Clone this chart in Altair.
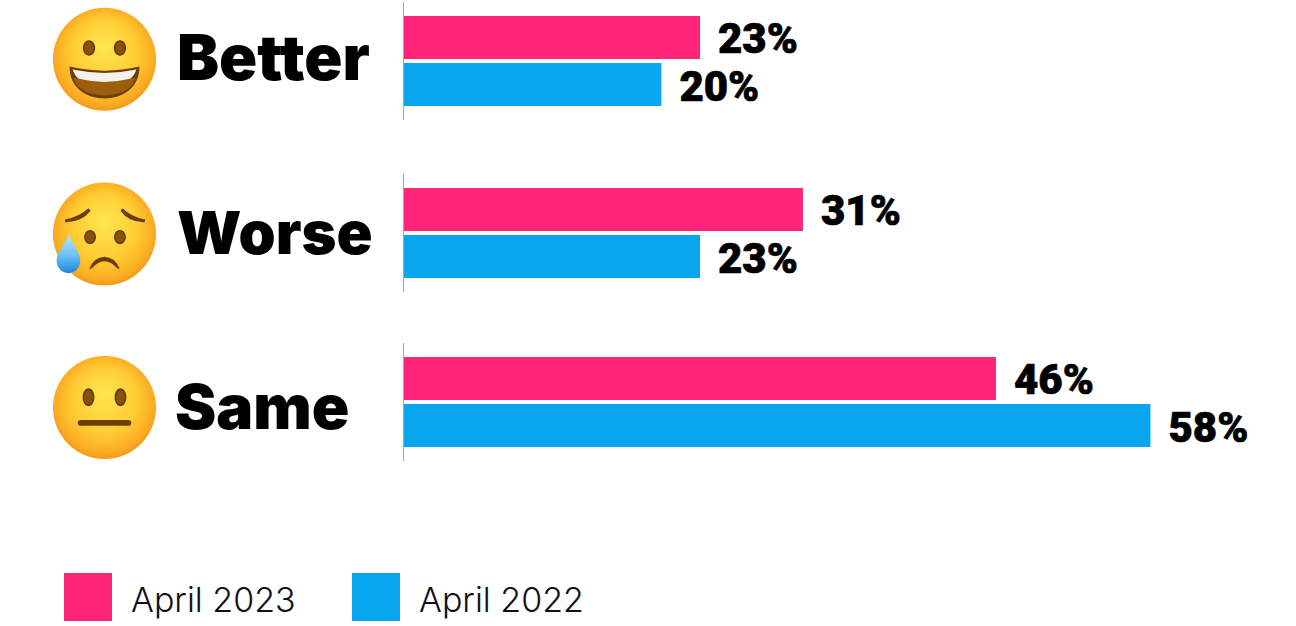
import altair as alt
import pandas as pd

# Survey results, in percent
categories = ["Better", "Worse", "Same"]
periods = ["April 2023", "April 2022"]
values_2023 = [23, 31, 46]
values_2022 = [20, 23, 58]
period_colors = ["#FF2679", "#08A6EE"]

rows = []
for i, cat in enumerate(categories):
    rows.append({"category": cat, "period": periods[0], "value": values_2023[i], "slot": 2 * i})
    rows.append({"category": cat, "period": periods[1], "value": values_2022[i], "slot": 2 * i + 1})
table = pd.DataFrame(rows)

x_scale = alt.Scale(domain=[0, 69.31], range=[404, 1296], nice=False, zero=False)
y_scale = alt.Scale(domain=[0, 1, 2, 3, 4, 5], range=[37.5, 84.5, 209.5, 256.5, 378.5, 425.5],
                    nice=False, zero=False, padding=0)
x_enc = alt.X("value:Q", scale=x_scale, axis=None)
y_enc = alt.Y("slot:Q", scale=y_scale, axis=None)

one_row = alt.Data(values=[{"n": 1}])

# Thin baseline next to each group of bars
baselines = [
    alt.Chart(one_row).mark_rule(color="#A8A8A8", strokeWidth=1).encode(
        x=alt.value(403.5), y=alt.value(top), y2=alt.value(bottom))
    for top, bottom in [(2, 120), (174, 292), (343, 461)]
]

bars = alt.Chart(table).mark_bar(orient="horizontal", height=43).encode(
    x=x_enc,
    y=y_enc,
    color=alt.Color("period:N", scale=alt.Scale(domain=periods, range=period_colors), legend=None),
)


def value_labels(period, shift):
    # A hairline stroke thickens the heaviest available Roboto weight
    return alt.Chart(table).transform_filter(
        alt.datum.period == period
    ).transform_calculate(label="datum.value + '%'").mark_text(
        align="left", baseline="middle", dx=18, dy=shift, font="Roboto", fontWeight=900,
        fontSize=42, color="#000000", stroke="#000000", strokeWidth=0.7,
    ).encode(x=x_enc, y=y_enc, text="label:N")


# Category names sit on their own baselines
name_layers = [
    alt.Chart(alt.Data(values=[{"name": cat}])).mark_text(
        align="left", baseline="alphabetic", font="Inter", fontWeight=900, fontSize=size, color="#000000",
    ).encode(x=alt.value(left), y=alt.value(base), text="name:N")
    for cat, left, base, size in zip(categories, [177, 177, 175], [80, 254, 429], [63, 59.5, 62])
]

# Key below the chart
key_layers = []
for name, color, box_x, text_x in zip(periods, period_colors, [88, 376], [131, 419]):
    key_layers.append(
        alt.Chart(one_row).mark_square(size=2304, color=color, opacity=1, strokeWidth=0).encode(
            x=alt.value(box_x), y=alt.value(597))
    )
    key_layers.append(
        alt.Chart(alt.Data(values=[{"name": name}])).mark_text(
            align="left", baseline="alphabetic", font="Inter", fontWeight=300, fontSize=34,
            color="#111111",
        ).encode(x=alt.value(text_x), y=alt.value(612), text="name:N")
    )

# --- Emoji faces, drawn as symbols on a unit square around each centre ---
R = 51.5
FACE = {
    "gradient": "radial", "x1": 0.5, "y1": 0.36, "r1": 0, "x2": 0.5, "y2": 0.48, "r2": 0.56,
    "stops": [
        {"offset": 0, "color": "#FFE650"},
        {"offset": 0.55, "color": "#FFCD35"},
        {"offset": 0.85, "color": "#FBAC22"},
        {"offset": 1, "color": "#EE8E18"},
    ],
}
TEAR = {
    "gradient": "linear", "x1": 0.5, "y1": 0, "x2": 0.5, "y2": 1,
    "stops": [
        {"offset": 0, "color": "#BDE6FA"},
        {"offset": 0.55, "color": "#6BC0F2"},
        {"offset": 1, "color": "#1F86DC"},
    ],
}
DARK = "#6B3E05"
MID = "#8A5208"


def ellipse(cx, cy, rx, ry):
    return (f"M {cx - rx} {cy} A {rx} {ry} 0 1 1 {cx + rx} {cy} "
            f"A {rx} {ry} 0 1 1 {cx - rx} {cy} Z")


def part(cx, cy, path, fill):
    return alt.Chart(one_row).mark_point(
        shape=path, size=(2 * R) ** 2, filled=True, fill=fill, opacity=1, strokeWidth=0,
    ).encode(x=alt.value(cx), y=alt.value(cy))


def eyes(cx, cy, ex, ey, rx, ry):
    out = []
    for sx in (-ex[0], ex[1]):
        out.append(part(cx, cy, ellipse(sx, ey, rx, ry), DARK))
        out.append(part(cx, cy, ellipse(sx, ey, rx * 0.7, ry * 0.75), MID))
    return out


def face(cx, cy):
    return part(cx, cy, ellipse(0, 0, 1, 1), FACE)


grin_x, grin_y = 104.5, 59.3
grin = [
    face(grin_x, grin_y),
    *eyes(grin_x, grin_y, (0.30, 0.30), -0.22, 0.12, 0.15),
    part(grin_x, grin_y, "M -0.68 0.14 Q 0 0.3 0.68 0.14 C 0.68 0.55 0.35 0.76 0 0.76 "
                         "C -0.35 0.76 -0.68 0.55 -0.68 0.14 Z", DARK),
    part(grin_x, grin_y, "M -0.6 0.36 Q 0 0.5 0.6 0.36 C 0.55 0.58 0.3 0.7 0 0.7 "
                         "C -0.3 0.7 -0.55 0.58 -0.6 0.36 Z", "#9C5E0A"),
    part(grin_x, grin_y, "M -0.62 0.2 Q 0 0.33 0.62 0.2 Q 0.58 0.32 0.5 0.38 "
                         "Q 0 0.5 -0.5 0.38 Q -0.58 0.32 -0.62 0.2 Z", "#F4F1EA"),
]

sad_x, sad_y = 104.5, 234
sad = [
    face(sad_x, sad_y),
    part(sad_x, sad_y, "M -0.77 -0.28 Q -0.5 -0.33 -0.31 -0.5 L -0.27 -0.45 Q -0.45 -0.22 -0.76 -0.23 Z", DARK),
    part(sad_x, sad_y, "M 0.79 -0.28 Q 0.52 -0.33 0.35 -0.5 L 0.31 -0.45 Q 0.47 -0.22 0.78 -0.23 Z", DARK),
    *eyes(sad_x, sad_y, (0.28, 0.30), 0.06, 0.115, 0.14),
    part(sad_x, sad_y, "M -0.29 0.66 Q -0.2 0.45 0 0.44 Q 0.2 0.45 0.29 0.66 Q 0.3 0.7 0.24 0.66 "
                       "Q 0.12 0.53 0 0.53 Q -0.12 0.53 -0.24 0.66 Q -0.3 0.7 -0.29 0.66 Z", DARK),
    part(sad_x, sad_y, "M -0.69 0 C -0.66 0.12 -0.47 0.35 -0.47 0.52 C -0.47 0.65 -0.57 0.76 -0.7 0.76 "
                       "C -0.83 0.76 -0.93 0.65 -0.93 0.52 C -0.93 0.35 -0.72 0.12 -0.69 0 Z", TEAR),
]

flat_x, flat_y = 104.5, 407.5
flat = [
    face(flat_x, flat_y),
    *eyes(flat_x, flat_y, (0.31, 0.31), -0.2, 0.115, 0.175),
    part(flat_x, flat_y, "M -0.46 0.245 L 0.46 0.245 Q 0.52 0.245 0.52 0.3 Q 0.52 0.355 0.46 0.355 "
                         "L -0.46 0.355 Q -0.52 0.355 -0.52 0.3 Q -0.52 0.245 -0.46 0.245 Z", DARK),
]

chart = alt.layer(
    *baselines,
    bars,
    value_labels(periods[0], 2.5),
    value_labels(periods[1], 3),
    *name_layers,
    *key_layers,
    *grin,
    *sad,
    *flat,
).properties(
    width=1296,
    height=626,
    padding=0,
    autosize=alt.AutoSizeParams(type="none"),
    background="#FFFFFF",
).configure_view(stroke=None)

chart.save("out.html", embed_options={"renderer": "svg", "actions": False})
